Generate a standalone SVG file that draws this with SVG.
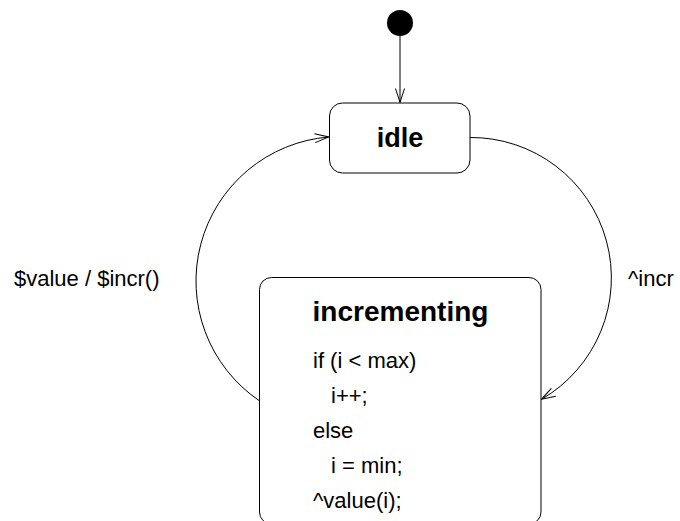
<svg xmlns="http://www.w3.org/2000/svg" width="680" height="521" viewBox="0 0 680 521">
  <style>
    .state { fill: #ffffff; stroke: #000000; stroke-width: 1; }
    .title { font-family: "Liberation Sans", Arial, sans-serif; font-weight: bold; fill: #000000; text-anchor: middle; }
    .body { font-family: "Liberation Sans", Arial, sans-serif; font-size: 22px; fill: #000000; }
    .edge { fill: none; stroke: #000000; stroke-width: 1; }
    .label { font-family: "Liberation Sans", Arial, sans-serif; font-size: 22px; fill: #000000; }
  </style>
  <defs>
    <marker id="open-arrow" markerUnits="userSpaceOnUse" markerWidth="16" markerHeight="12" refX="14" refY="4.5" orient="auto" overflow="visible">
      <path d="M0,0 L14,4.5 L0,9" fill="none" stroke="#000000" stroke-width="1"/>
    </marker>
  </defs>
  <rect width="680" height="521" fill="#ffffff"/>

  <!-- connectors -->
  <g id="connectors">
    <path class="edge" d="M400,36 L400,102.5" stroke="#333333" marker-end="url(#open-arrow)"/>
    <path class="edge" d="M259.3,400.7 A144.6,144.6 0 0 1 328.8,137" marker-end="url(#open-arrow)"/>
    <path class="edge" d="M470,137.5 A140.4,140.4 0 0 1 541.5,399.3" marker-end="url(#open-arrow)"/>
    <text class="label" x="14" y="286">$value / $incr()</text>
    <text class="label" x="628" y="286">^incr</text>
  </g>

  <!-- initial pseudo-state -->
  <g id="initial">
    <circle cx="400" cy="23" r="13" fill="#000000"/>
  </g>

  <!-- idle state -->
  <g id="idle">
    <rect class="state" x="329.5" y="103" width="140.5" height="70" rx="13" ry="13"/>
    <text class="title" x="400" y="147" font-size="27">idle</text>
  </g>

  <!-- incrementing state -->
  <g id="incrementing">
    <rect class="state" x="259.5" y="277.5" width="281.5" height="246.5" rx="12" ry="12"/>
    <text class="title" x="400.5" y="321" font-size="28">incrementing</text>
    <text class="body" x="313" y="368">if (i &lt; max)</text>
    <text class="body" x="331" y="403">i++;</text>
    <text class="body" x="313" y="438">else</text>
    <text class="body" x="331" y="473">i = min;</text>
    <text class="body" x="313" y="508">^value(i);</text>
  </g>
</svg>
